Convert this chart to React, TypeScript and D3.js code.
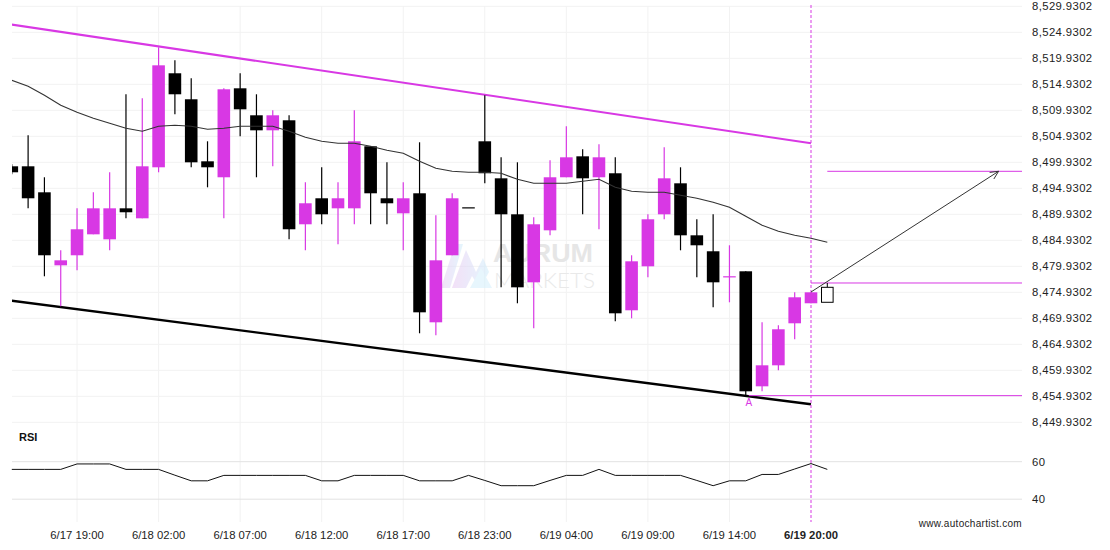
import React from 'react';
import * as d3 from 'd3';

const W = 1110;
const H = 550;

// candle OHLC (hourly, index 0..49)
const opens = [8499.16, 8499.16, 8494.16, 8480.12, 8482.05, 8486.08, 8485.12, 8491.08, 8489.16, 8498.97, 8517.05, 8512.05, 8500.12, 8497.05, 8514.16, 8508.97, 8506.08, 8508.01, 8488.01, 8493.01, 8491.08, 8491.08, 8503.01, 8493.01, 8490.12, 8493.97, 8469.16, 8482.05, 8491.28, 8503.97, 8496.85, 8489.93, 8476.85, 8486.85, 8497.05, 8501.08, 8497.05, 8497.82, 8471.47, 8479.93, 8489.93, 8495.89, 8485.89, 8482.82, 8478.01, 8478.97, 8456.85, 8460.89, 8468.97, 8472.82];
const highs = [8499.55, 8505.12, 8497.05, 8483.01, 8491.08, 8494.16, 8498.01, 8513.01, 8512.24, 8522.05, 8519.55, 8516.08, 8503.97, 8514.16, 8517.05, 8513.01, 8509.93, 8508.97, 8496.08, 8498.97, 8496.08, 8509.93, 8503.01, 8499.93, 8496.08, 8503.78, 8489.74, 8493.97, 8491.28, 8512.82, 8500.89, 8499.93, 8489.35, 8500.32, 8506.85, 8502.43, 8503.39, 8500.89, 8482.05, 8489.93, 8502.82, 8498.97, 8488.97, 8489.93, 8483.97, 8478.97, 8469.16, 8468.58, 8474.93, 8474.93];
const lows = [8497.62, 8491.08, 8478.01, 8472.24, 8479.16, 8486.08, 8483.01, 8489.16, 8489.16, 8498.01, 8509.16, 8498.97, 8495.12, 8489.16, 8504.93, 8497.05, 8499.16, 8485.12, 8483.01, 8488.01, 8484.16, 8488.01, 8488.01, 8488.01, 8483.01, 8467.05, 8466.66, 8482.05, 8491.28, 8495.89, 8475.89, 8472.82, 8468.01, 8485.89, 8497.05, 8489.93, 8487.05, 8469.35, 8469.93, 8477.82, 8488.97, 8483.01, 8477.82, 8472.05, 8473.01, 8455.12, 8455.89, 8459.93, 8465.89, 8472.82];
const closes = [8498.01, 8493.01, 8482.05, 8481.08, 8487.05, 8491.08, 8491.08, 8490.32, 8499.16, 8518.58, 8513.01, 8499.93, 8498.97, 8513.97, 8510.12, 8506.08, 8508.97, 8487.05, 8492.05, 8489.93, 8493.01, 8503.97, 8493.97, 8492.05, 8493.01, 8471.08, 8481.08, 8493.01, 8491.27, 8497.82, 8489.93, 8475.89, 8488.01, 8497.05, 8500.89, 8496.85, 8500.89, 8470.89, 8480.89, 8488.97, 8496.85, 8485.89, 8483.97, 8476.85, 8478.02, 8455.89, 8460.89, 8467.82, 8473.97, 8474.93];

// moving average (index 0..50)
const maValues = [8515.70, 8514.55, 8512.82, 8510.89, 8509.55, 8508.39, 8507.43, 8506.47, 8505.89, 8506.85, 8507.05, 8506.85, 8506.28, 8506.47, 8506.85, 8506.85, 8506.85, 8505.89, 8504.74, 8503.97, 8503.58, 8503.58, 8503.01, 8502.24, 8501.66, 8500.12, 8498.78, 8498.20, 8498.01, 8498.01, 8497.82, 8496.66, 8495.89, 8495.89, 8495.89, 8496.28, 8496.66, 8495.12, 8494.35, 8494.16, 8494.16, 8493.58, 8493.01, 8492.24, 8491.28, 8489.55, 8487.82, 8486.66, 8485.89, 8485.32, 8484.55];

// RSI (index 0..50)
const rsiValues = [55.9, 55.9, 55.9, 55.9, 58.8, 58.8, 58.8, 55.9, 55.9, 55.9, 52.8, 49.8, 49.8, 52.7, 52.7, 52.7, 52.7, 52.7, 52.7, 49.8, 49.8, 52.7, 52.7, 52.7, 52.7, 49.8, 49.8, 49.8, 52.7, 50.0, 47.2, 47.2, 47.2, 50.0, 52.7, 52.7, 55.9, 52.7, 52.7, 52.7, 52.7, 52.7, 50.0, 47.2, 49.8, 49.8, 53.2, 53.2, 56.1, 59.0, 55.9];

// axis ticks
const priceTicks = d3.range(0, 17).map((k) => 8529.9302 - 5 * k);
const rsiTicks = [60, 40];
const timeTickIdx = [4, 9, 14, 19, 24, 29, 34, 39, 44, 49];
const timeLabels = ['6/17 19:00', '6/18 02:00', '6/18 07:00', '6/18 12:00', '6/18 17:00', '6/18 23:00', '6/19 04:00', '6/19 09:00', '6/19 14:00', '6/19 20:00'];

// pattern (channel) lines: [index, price]
const upperLine: [number, number][] = [[0, 8526.41], [49, 8503.58]];
const lowerLine: [number, number][] = [[0, 8473.30], [49, 8453.39]];
// levels
const targetLevel = 8498.2;
const breakoutLevel = 8476.72;
const supportLevel = 8455.06;
const forecastBox = { idx: 50, open: 8473.01, close: 8475.89, high: 8476.72 };
const arrowPts: [number, number][] = [[49, 8474.99], [60.5, 8498.2]];

const MAG = '#d838e4';
const FONT = '"Liberation Sans", Arial, Helvetica, sans-serif';

export default function App() {
  const x = d3.scaleLinear().domain([0, 49]).range([11.8, 811]);
  const y = d3.scaleLinear().domain([8449.9302, 8529.9302]).range([422.3, 6.3]);
  const yR = d3.scaleLinear().domain([40, 60]).range([499.2, 461.7]);
  const fmt = d3.format(',.4f');
  const plotL = 12;
  const plotR = 1022;
  const bw = 12.6;

  const maLine = d3.line<number>().x((_, i) => x(i)).y((d) => y(d))(maValues) || '';
  const rsiLine = d3.line<number>().x((_, i) => x(i)).y((d) => yR(d))(rsiValues) || '';

  const [a0, a1] = arrowPts;
  const ax0 = x(a0[0]), ay0 = y(a0[1]), ax1 = x(a1[0]), ay1 = y(a1[1]);
  const ang = Math.atan2(ay1 - ay0, ax1 - ax0);
  const hl = 9;
  const h1 = [ax1 - hl * Math.cos(ang - 0.45), ay1 - hl * Math.sin(ang - 0.45)];
  const h2 = [ax1 - hl * Math.cos(ang + 0.45), ay1 - hl * Math.sin(ang + 0.45)];

  return (
    <div style={{ position: 'absolute', left: 0, top: 0 }}>
      <svg width={W} height={H} style={{ display: 'block', background: '#fff' }} fontFamily={FONT}>
        <defs>
          <clipPath id="plot">
            <rect x={plotL} y={0} width={plotR - plotL} height={425} />
          </clipPath>
          <linearGradient id="logoG" x1="0" y1="0" x2="1" y2="0">
            <stop offset="0" stopColor="#e9c8f2" />
            <stop offset="1" stopColor="#cfeefc" />
          </linearGradient>
        </defs>

        {/* grid */}
        {priceTicks.map((p) => (
          <line key={'g' + p} x1={plotL} x2={plotR} y1={y(p)} y2={y(p)} stroke="#f2f2f2" strokeWidth={1} />
        ))}
        {timeTickIdx.slice(0, -1).map((i) => (
          <line key={'v' + i} x1={x(i)} x2={x(i)} y1={6} y2={522} stroke="#f2f2f2" strokeWidth={1} />
        ))}
        {rsiTicks.map((r) => (
          <line key={'r' + r} x1={plotL} x2={plotR} y1={yR(r)} y2={yR(r)} stroke="#e2e2e2" strokeWidth={1} />
        ))}

        {/* watermark */}
        <g opacity={0.55}>
          <polygon points="441,288 455,244 463,244 450,288" fill="url(#logoG)" />
          <polygon points="452,288 466,250 476,272 483,258 489,272 480,288 472,276 466,288" fill="url(#logoG)" />
          <polygon points="470,288 481,268 492,288" fill="#d4f0fc" />
        </g>
        <text x={493} y={262} fontSize={26} fontWeight={700} fill="#e6e6e6" textLength={100} lengthAdjust="spacingAndGlyphs">AURUM</text>
        <text x={494} y={288} fontSize={22} fontWeight={300} fill="#e9e9e9" textLength={101} lengthAdjust="spacingAndGlyphs" fontFamily={'Lato, ' + FONT}>MARKETS</text>

        <g clipPath="url(#plot)">
          {/* channel lines */}
          <line x1={x(upperLine[0][0])} y1={y(upperLine[0][1])} x2={x(upperLine[1][0])} y2={y(upperLine[1][1])} stroke={MAG} strokeWidth={2} />
          <line x1={x(lowerLine[0][0])} y1={y(lowerLine[0][1])} x2={x(lowerLine[1][0])} y2={y(lowerLine[1][1])} stroke="#000" strokeWidth={2.4} />

          {/* candles */}
          {opens.map((o, i) => {
            const c = closes[i];
            const up = c > o;
            const col = up ? MAG : '#000';
            const cx = x(i);
            const top = y(Math.max(o, c));
            const bot = y(Math.min(o, c));
            return (
              <g key={'c' + i}>
                <line x1={cx} x2={cx} y1={y(highs[i])} y2={y(lows[i])} stroke={col} strokeWidth={1.2} />
                <rect x={cx - bw / 2} y={top} width={bw} height={Math.max(1.2, bot - top)} fill={col} />
              </g>
            );
          })}

          {/* moving average */}
          <path d={maLine} fill="none" stroke="#333" strokeWidth={1.1} />
        </g>

        {/* levels */}
        <line x1={x(forecastBox.idx)} x2={plotR} y1={y(targetLevel)} y2={y(targetLevel)} stroke={MAG} strokeWidth={1} />
        <line x1={x(49)} x2={plotR} y1={y(breakoutLevel)} y2={y(breakoutLevel)} stroke={MAG} strokeWidth={1} />
        <line x1={x(45) + 3} x2={plotR} y1={y(supportLevel)} y2={y(supportLevel)} stroke={MAG} strokeWidth={1} />
        <text x={x(45) + 3} y={y(supportLevel) + 10} fontSize={10} fill={MAG} textAnchor="middle">A</text>

        {/* current time marker */}
        <line x1={x(49)} x2={x(49)} y1={5} y2={522} stroke={MAG} strokeWidth={1} strokeDasharray="3,2" />

        {/* forecast box */}
        <line x1={x(forecastBox.idx)} x2={x(forecastBox.idx)} y1={y(forecastBox.high)} y2={y(forecastBox.close)} stroke="#000" strokeWidth={1} />
        <rect x={x(forecastBox.idx) - 5.8} y={y(forecastBox.close)} width={11.6} height={y(forecastBox.open) - y(forecastBox.close)} fill="#fff" stroke="#000" strokeWidth={1} />

        {/* arrow */}
        <line x1={ax0} y1={ay0} x2={ax1} y2={ay1} stroke="#333" strokeWidth={1} />
        <polyline points={`${h1[0]},${h1[1]} ${ax1},${ay1} ${h2[0]},${h2[1]}`} fill="none" stroke="#333" strokeWidth={1} />

        {/* RSI */}
        <text x={19} y={441} fontSize={11} fontWeight={700} fill="#111">RSI</text>
        <path d={rsiLine} fill="none" stroke="#111" strokeWidth={1} />

        {/* price axis labels */}
        {priceTicks.map((p) => (
          <text key={'t' + p} x={1032} y={y(p)} dy="0.35em" fontSize={11.3} letterSpacing={0.4} fill="#222">{fmt(p)}</text>
        ))}
        {rsiTicks.map((r) => (
          <text key={'rt' + r} x={1032} y={yR(r)} dy="0.35em" fontSize={11.3} letterSpacing={0.4} fill="#222">{r}</text>
        ))}

        {/* time labels */}
        {timeTickIdx.map((i, k) => (
          <text key={'x' + i} x={x(i)} y={535} dy="0.35em" textAnchor="middle" fontSize={11.3} fontWeight={k === timeLabels.length - 1 ? 700 : 400} fill="#222">{timeLabels[k]}</text>
        ))}

        <text x={1022} y={523} dy="0.35em" textAnchor="end" fontSize={10} letterSpacing={0.3} fill="#222">www.autochartist.com</text>
      </svg>
    </div>
  );
}
